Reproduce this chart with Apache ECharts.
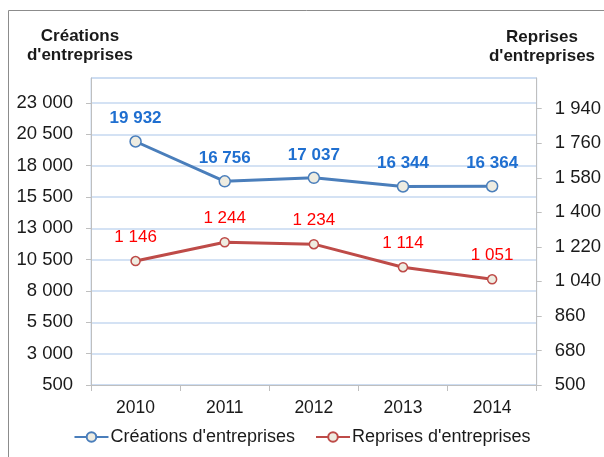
<!DOCTYPE html>
<html>
<head>
<meta charset="utf-8">
<script src="https://cdn.jsdelivr.net/npm/echarts@6/dist/echarts.min.js"></script>
<style>
  html, body { margin: 0; padding: 0; background: #fff; }
  #chart { width: 604px; height: 457px; }
</style>
</head>
<body>
<div id="chart"></div>
<script>
const years = ['2010', '2011', '2012', '2013', '2014'];
const creations = [19932, 16756, 17037, 16344, 16364];
const reprises = [1146, 1244, 1234, 1114, 1051];

// 19932 -> "19 932"
function fmt(v) {
  return String(v).replace(/\B(?=(\d{3})+(?!\d))/g, ' ');
}

const chart = echarts.init(document.getElementById('chart'));
const font = 'Arial, "Liberation Sans", sans-serif';

const option = {
  animation: false,
  textStyle: { fontFamily: font },
  graphic: [
    {
      type: 'rect',
      shape: { x: 8.5, y: 10.5, width: 620, height: 470 },
      style: { fill: 'none', stroke: '#8c8c8c', lineWidth: 1 }
    },
    {
      type: 'text', x: 80, y: 27,
      style: { text: 'Créations\nd\'entreprises', font: 'bold 17px ' + font, fill: '#1a1a1a', align: 'center', verticalAlign: 'top', lineHeight: 19 }
    },
    {
      type: 'text', x: 542, y: 28,
      style: { text: 'Reprises\nd\'entreprises', font: 'bold 17px ' + font, fill: '#1a1a1a', align: 'center', verticalAlign: 'top', lineHeight: 19 }
    }
  ],
  grid: {
    left: 91, right: 65, top: 78, bottom: 72,
    show: true, borderColor: '#c6d9f1', borderWidth: 1
  },
  legend: {
    bottom: 6, left: 'center',
    itemGap: 20, itemWidth: 34, itemHeight: 12,
    textStyle: { fontSize: 18, color: '#1a1a1a', padding: [0, 0, 0, -3] },
    data: ['Créations d\'entreprises', 'Reprises d\'entreprises']
  },
  xAxis: {
    type: 'category',
    data: years,
    boundaryGap: true,
    axisLine: { lineStyle: { color: '#bfbfbf' } },
    axisTick: { show: true, length: 6, lineStyle: { color: '#bfbfbf' } },
    axisLabel: { fontSize: 17.5, color: '#1a1a1a', margin: 14 }
  },
  yAxis: [
    {
      type: 'value', min: 500, max: 25000, interval: 2500,
      axisLine: { show: true, lineStyle: { color: '#bfbfbf' } },
      axisTick: { show: true, inside: false, length: 5, lineStyle: { color: '#bfbfbf' } },
      axisLabel: { fontSize: 18.5, color: '#1a1a1a', margin: 18, showMaxLabel: false, formatter: fmt },
      splitLine: { show: true, lineStyle: { color: '#c6d9f1', width: 1.5 } }
    },
    {
      type: 'value', min: 500, max: 2100, interval: 180,
      position: 'right',
      axisLine: { show: true, lineStyle: { color: '#bfbfbf' } },
      axisTick: { show: true, length: 5, lineStyle: { color: '#bfbfbf' } },
      axisLabel: { fontSize: 18.5, color: '#1a1a1a', margin: 18, showMaxLabel: false, formatter: fmt },
      splitLine: { show: false }
    }
  ],
  series: [
    {
      name: 'Créations d\'entreprises',
      type: 'line',
      yAxisIndex: 0,
      data: creations,
      symbol: 'circle',
      symbolSize: 11,
      lineStyle: { color: '#4a7ebb', width: 3 },
      itemStyle: { color: '#eeece1', borderColor: '#4a7ebb', borderWidth: 1.5 },
      label: {
        show: true, position: 'top', distance: 8,
        fontSize: 17, fontWeight: 'bold', color: '#1f6fd0',
        formatter: p => fmt(p.value)
      }
    },
    {
      name: 'Reprises d\'entreprises',
      type: 'line',
      yAxisIndex: 1,
      data: reprises,
      symbol: 'circle',
      symbolSize: 9,
      lineStyle: { color: '#be4b48', width: 3 },
      itemStyle: { color: '#eeece1', borderColor: '#be4b48', borderWidth: 1.5 },
      label: {
        show: true, position: 'top', distance: 10,
        fontSize: 17, color: '#ff0000',
        formatter: p => fmt(p.value)
      }
    }
  ]
};

chart.setOption(option);
</script>
</body>
</html>
